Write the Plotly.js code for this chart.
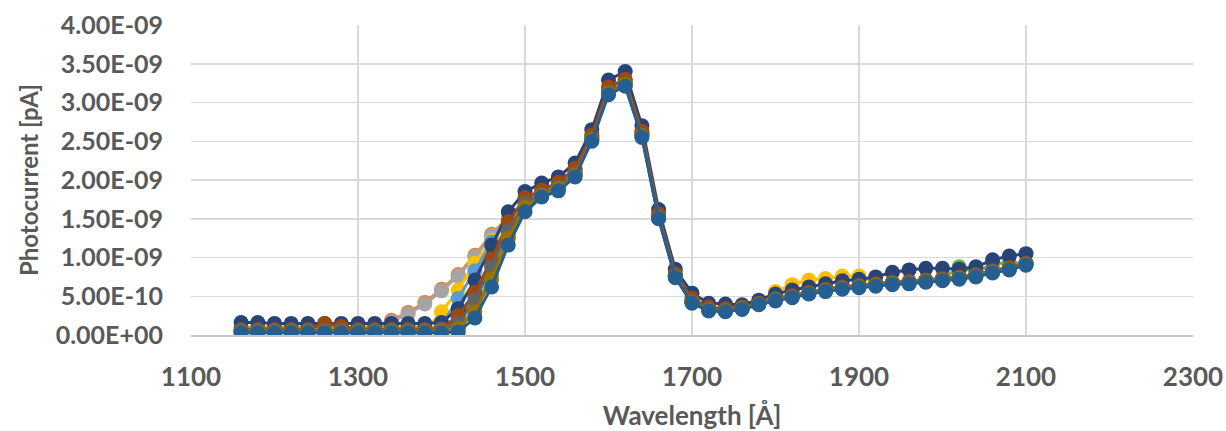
<!DOCTYPE html>
<html>
<head>
<meta charset="utf-8">
<script src="https://cdn.plot.ly/plotly-3.0.1.min.js"></script>
<style>html,body{margin:0;padding:0;background:#fff;}#chart{width:1226px;height:431px;}</style>
</head>
<body>
<div id="chart"></div>
<script>
// Wavelength [Å]
const wavelength = [1160,1180,1200,1220,1240,1260,1280,1300,1320,1340,1360,1380,1400,1420,1440,1460,1480,1500,1520,1540,1560,1580,1600,1620,1640,1660,1680,1700,1720,1740,1760,1780,1800,1820,1840,1860,1880,1900,1920,1940,1960,1980,2000,2020,2040,2060,2080,2100];

// Photocurrent values, in units of 1E-09
const s1 = [0.06,0.06,0.06,0.06,0.06,0.06,0.06,0.06,0.06,0.06,0.06,0.06,0.06, 0.20,0.50,0.92,1.40,1.72,1.84,1.93,2.10,2.55,3.15, 3.26,2.60,1.53,0.76,0.44,0.33,0.32,0.35,0.40,0.46, 0.50,0.54,0.58,0.61,0.63,0.65,0.67,0.68,0.70,0.72, 0.74,0.77,0.82,0.86,0.92];
const s2 = [0.06,0.06,0.06,0.06,0.06,0.06,0.06,0.06,0.10,0.19,0.29,0.42,0.59, 0.78,1.03,1.30,1.51,1.73,1.84,1.94,2.11,2.56,3.16, 3.27,2.61,1.54,0.77,0.45,0.34,0.33,0.36,0.41,0.47, 0.51,0.55,0.59,0.62,0.64,0.66,0.68,0.69,0.71,0.73, 0.75,0.78,0.83,0.87,0.93];
const s3 = [0.05,0.05,0.05,0.05,0.05,0.05,0.05,0.05,0.08,0.17,0.27,0.40,0.57, 0.76,1.01,1.28,1.50,1.72,1.83,1.93,2.10,2.55,3.15, 3.26,2.60,1.53,0.76,0.44,0.33,0.32,0.35,0.40,0.46, 0.50,0.54,0.58,0.61,0.63,0.65,0.67,0.68,0.70,0.72, 0.74,0.77,0.82,0.86,0.92];
const s4 = [0.05,0.05,0.05,0.05,0.05,0.05,0.05,0.05,0.05,0.05,0.05,0.05,0.30, 0.58,0.93,1.22,1.45,1.72,1.83,1.93,2.10,2.55,3.14, 3.25,2.59,1.52,0.76,0.44,0.34,0.33,0.36,0.44,0.56, 0.65,0.71,0.73,0.76,0.76,0.66,0.67,0.68,0.70,0.72, 0.74,0.77,0.82,0.86,0.92];
const s5 = [0.05,0.05,0.05,0.05,0.05,0.05,0.05,0.05,0.05,0.05,0.05,0.05,0.12, 0.47,0.83,1.20,1.48,1.74,1.85,1.95,2.12,2.56,3.16, 3.27,2.61,1.54,0.77,0.45,0.34,0.33,0.36,0.41,0.47, 0.51,0.55,0.59,0.62,0.64,0.66,0.68,0.69,0.71,0.73, 0.75,0.78,0.83,0.87,0.93];
const s6 = [0.10,0.10,0.10,0.10,0.10,0.10,0.10,0.10,0.10,0.10,0.10,0.10,0.10, 0.10,0.35,0.78,1.28,1.66,1.80,1.90,2.07,2.52,3.12, 3.23,2.57,1.51,0.75,0.43,0.33,0.32,0.35,0.40,0.46, 0.50,0.54,0.58,0.61,0.64,0.66,0.67,0.68,0.70,0.72, 0.88,0.80,0.92,0.93,0.93];
const s7 = [0.16,0.16,0.15,0.15,0.15,0.15,0.15,0.15,0.15,0.15,0.15,0.15,0.16, 0.34,0.71,1.16,1.59,1.85,1.96,2.04,2.22,2.65,3.29, 3.40,2.70,1.62,0.85,0.54,0.41,0.40,0.39,0.45,0.53, 0.58,0.62,0.66,0.70,0.72,0.75,0.81,0.84,0.86,0.86, 0.85,0.88,0.97,1.02,1.05];
const s8 = [0.07,0.07,0.07,0.07,0.07,0.15,0.11,0.07,0.07,0.07,0.07,0.07,0.08, 0.25,0.55,0.98,1.46,1.77,1.87,1.97,2.15,2.58,3.20, 3.30,2.63,1.56,0.79,0.47,0.36,0.34,0.36,0.41,0.47, 0.51,0.55,0.59,0.62,0.64,0.66,0.68,0.69,0.71,0.73, 0.75,0.78,0.83,0.87,0.93];
const s9 = [0.06,0.06,0.06,0.06,0.06,0.06,0.06,0.06,0.06,0.06,0.06,0.06,0.07, 0.15,0.45,0.88,1.35,1.70,1.81,1.91,2.08,2.53,3.13, 3.24,2.58,1.52,0.76,0.43,0.33,0.32,0.35,0.40,0.46, 0.50,0.54,0.58,0.61,0.63,0.65,0.67,0.68,0.70,0.72, 0.74,0.77,0.82,0.86,0.92];
const s10 = [0.04,0.04,0.04,0.04,0.04,0.04,0.04,0.04,0.04,0.04,0.04,0.04,0.05, 0.08,0.30,0.72,1.25,1.65,1.80,1.89,2.06,2.52,3.12, 3.23,2.57,1.51,0.75,0.42,0.32,0.31,0.34,0.40,0.45, 0.49,0.54,0.57,0.60,0.62,0.64,0.66,0.67,0.69,0.71, 0.73,0.76,0.81,0.85,0.91];
const s11 = [0.03,0.03,0.03,0.03,0.03,0.03,0.03,0.03,0.03,0.03,0.03,0.03,0.03, 0.04,0.22,0.62,1.16,1.59,1.78,1.86,2.04,2.50,3.10, 3.21,2.55,1.50,0.74,0.41,0.31,0.30,0.33,0.39,0.44, 0.48,0.53,0.56,0.59,0.61,0.63,0.65,0.66,0.68,0.70, 0.72,0.75,0.80,0.84,0.90];

const seriesList = [s1,s2,s3,s4,s5,s6,s7,s8,s9,s10,s11];
const seriesColors = ['#4472C4','#ED7D31','#A5A5A5','#FFC000','#5B9BD5','#70AD47','#264478','#9E480E','#636363','#997300','#255E91'];

const yTickVals = [0,0.5e-9,1.0e-9,1.5e-9,2.0e-9,2.5e-9,3.0e-9,3.5e-9,4.0e-9];
const yTickText = ['0.00E+00','5.00E-10','1.00E-09','1.50E-09','2.00E-09','2.50E-09','3.00E-09','3.50E-09','4.00E-09'];
const xTickVals = [1100,1300,1500,1700,1900,2100,2300];

const UNIT = 1e-9;
const traces = seriesList.map((s, i) => ({
  type: 'scatter',
  mode: 'lines+markers',
  x: wavelength,
  y: s.map(v => v * UNIT),
  line: {color: seriesColors[i], width: 3},
  marker: {color: seriesColors[i], size: 15, line: {width: 0}},
  showlegend: false,
  hoverinfo: 'skip'
}));

const fontFam = 'Lato, "Open Sans", sans-serif';
const layout = {
  width: 1226, height: 431,
  margin: {l: 191, r: 33, t: 25, b: 96},
  paper_bgcolor: '#ffffff', plot_bgcolor: '#ffffff',
  font: {family: fontFam, color: '#595959', size: 25, weight: 700},
  xaxis: {
    range: [1100, 2300],
    tickvals: xTickVals,
    ticktext: xTickVals.map(String),
    showgrid: true, gridcolor: '#d9d9d9', gridwidth: 1.5,
    zeroline: false,
    showline: true, linecolor: '#c8c8c8', linewidth: 1.5,
    ticks: '', ticklabelstandoff: 18,
    tickfont: {family: fontFam, size: 26, color: '#595959', weight: 700},
    title: {text: 'Wavelength [Å]', font: {family: fontFam, size: 26, color: '#595959', weight: 700}, standoff: 18},
    fixedrange: true
  },
  yaxis: {
    range: [0, 4e-9],
    tickvals: yTickVals,
    ticktext: yTickText,
    showgrid: true, gridcolor: '#d9d9d9', gridwidth: 1.5,
    zeroline: false,
    showline: false,
    ticks: '', ticklabelstandoff: 27,
    tickfont: {family: fontFam, size: 25, color: '#595959', weight: 700},
    title: {text: 'Photocurrent [pA]', font: {family: fontFam, size: 24, color: '#595959', weight: 700}, standoff: 10},
    fixedrange: true
  }
};

Plotly.newPlot('chart', traces, layout, {staticPlot: true, displayModeBar: false});
</script>
</body>
</html>
